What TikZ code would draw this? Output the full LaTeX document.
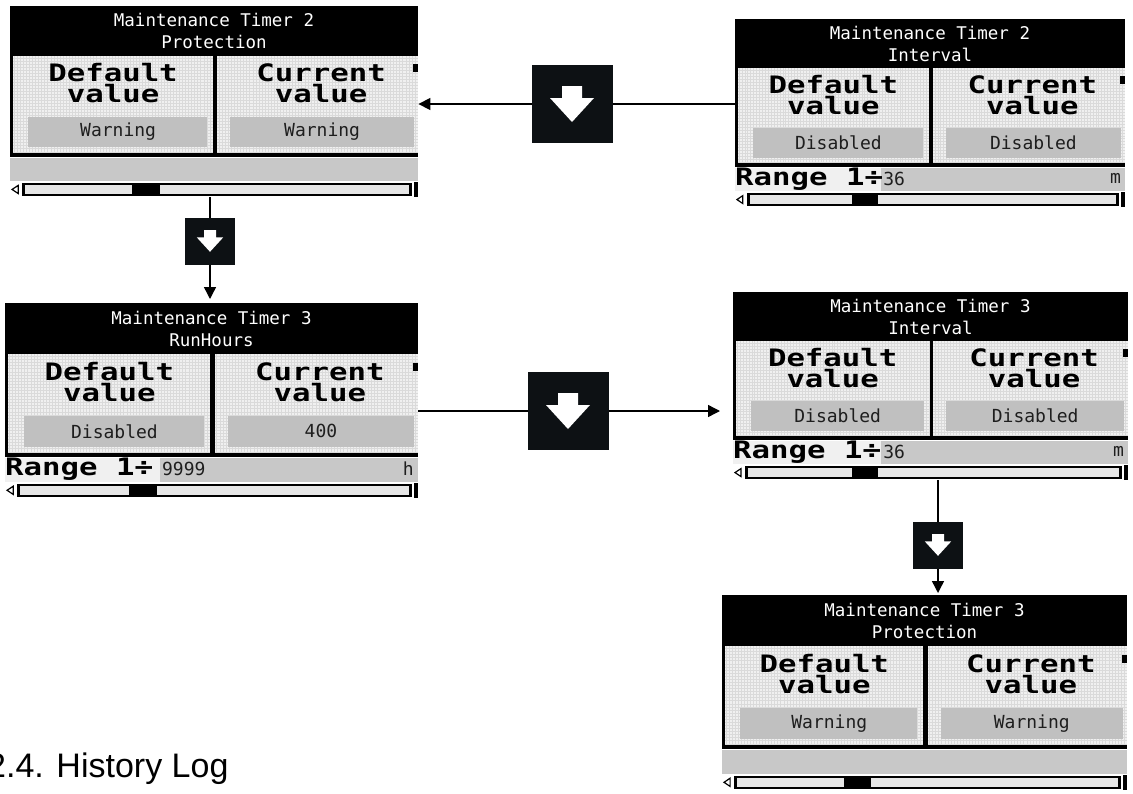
\documentclass[tikz,border=0pt]{standalone}
\usepackage{fontspec}
\setmainfont{Liberation Sans}
\newfontfamily\lcdmono{DejaVu Sans Mono}
\newfontfamily\lcdpixel[FakeStretch=1.28]{DejaVu Sans Mono}
\usepackage{tikz}
\usetikzlibrary{positioning,calc,arrows.meta,backgrounds}
\definecolor{lcdpanel}{RGB}{240,240,240}
\definecolor{lcdgrid}{RGB}{218,218,218}
\definecolor{lcdfield}{RGB}{192,192,192}
\definecolor{lcdbar}{RGB}{200,200,200}
\definecolor{lcdtrack}{RGB}{230,230,230}
\definecolor{lcdtext}{RGB}{30,30,30}
\definecolor{keyblack}{RGB}{13,17,20}

\begin{document}
\begin{tikzpicture}[x=1pt,y=-1pt,every node/.style={inner sep=0pt},
  headtxt/.style={text=white,align=center,font=\lcdmono\fontsize{17.5}{22}\selectfont},
  pixtxt/.style={text=black,align=center,font=\lcdpixel\bfseries\fontsize{24}{21}\selectfont},
  valtxt/.style={text=lcdtext,font=\lcdmono\fontsize{18}{20}\selectfont},
  keybox/.style={fill=keyblack,minimum width=81pt,minimum height=78pt},
  flow/.style={draw=black,line width=1.4pt,-{Triangle[length=12pt,width=12pt]}}]
  \useasboundingbox (0,0) rectangle (1133,793);

  % screens
  \foreach \n/\x/\y/\w/\h/\ta/\tb/\dv/\cv in {
      tl/10/6/408/191/Maintenance Timer 2/Protection/Warning/Warning,
      tr/735/19/390/188/Maintenance Timer 2/Interval/Disabled/Disabled,
      ml/5/303/413/195/Maintenance Timer 3/RunHours/Disabled/400,
      mr/733/292/395/188/Maintenance Timer 3/Interval/Disabled/Disabled,
      br/722/595/405/195/Maintenance Timer 3/Protection/Warning/Warning}{
    \begin{scope}[shift={(\x,\y)},xscale=\w/400,yscale=\h/190]
      \node[minimum width=\w pt,minimum height=\h pt,anchor=north west] (scr-\n) at (0,0) {};
      \fill[black] (0,0) rectangle (400,50);
      \fill[lcdpanel] (0,50) rectangle (400,147);
      \foreach \gx in {4,7,...,398}
        \draw[lcdgrid,line width=0.5pt] (\gx,50) -- (\gx,146);
      \foreach \gy in {52,55,...,145}
        \draw[lcdgrid,line width=0.5pt] (0,\gy) -- (400,\gy);
      \fill[black] (0,50) rectangle (3,147);
      \fill[black] (199,50) rectangle (203,147);
      \fill[black] (0,146) rectangle (400,150);
      \fill[lcdbar] (0,151) rectangle (400,174);
      \fill[lcdfield] (18,110) rectangle (193,140);
      \fill[lcdfield] (216,110) rectangle (396,140);
      \fill[black] (395,58) rectangle (400,66);
      % scroll bar
      \fill[black] (12,176) rectangle (394,189);
      \fill[lcdtrack] (15,178) rectangle (120,187);
      \fill[lcdtrack] (147,178) rectangle (391,187);
      \fill[black] (396,175) rectangle (400,190);
      \draw[line width=1.2pt] (2,182.5) -- (8,178.5) -- (8,186.5) -- cycle;
      % texts
      \node[headtxt] at (200,25) {\ta\\\tb};
      \node[pixtxt] at (101,77) {Default\\value};
      \node[pixtxt] at (305,77) {Current\\value};
      \node[valtxt] at (106,125) {\dv};
      \node[valtxt] at (306,125) {\cv};
    \end{scope}
  }

  % range rows
  \foreach \n/\x/\y/\w/\h/\rg/\un in {
      tr/735/19/390/188/36/m,
      ml/5/303/413/195/9999/h,
      mr/733/292/395/188/36/m}{
    \begin{scope}[shift={(\x,\y)},xscale=\w/400,yscale=\h/190]
      \fill[lcdpanel] (0,151) rectangle (150,174);
      \node[pixtxt,anchor=west] at (0,162) {Range 1÷};
      \node[valtxt,anchor=west] at (152,162) {\rg};
      \node[valtxt,anchor=east] at (396,161) {\un};
    \end{scope}
  }

  % keys
  \node[keybox] (k1) at (572,104) {};
  \node[keybox,minimum width=50pt,minimum height=47pt] (k2) at (210,241) {};
  \node[keybox] (k3) at (568,411) {};
  \node[keybox,minimum width=50pt,minimum height=47pt] (k4) at (938,545) {};
  \foreach \k/\s in {k1/1,k2/0.6,k3/1,k4/0.6}
    \fill[white,shift={(\k.center)},scale=\s] (-10,-18) -- (10,-18) -- (10,-6)
      -- (22,-6) -- (0,18) -- (-22,-6) -- (-10,-6) -- cycle;

  % connectors
  \begin{scope}[on background layer]
    \draw[flow] (scr-tr.west |- k1) -- (scr-tl.east |- k1);
    \draw[flow,shorten >=4pt] (k2 |- scr-tl.south) -- (k2 |- scr-ml.north);
    \draw[flow,shorten >=13pt] (scr-ml.east |- k3) -- (scr-mr.west |- k3);
    \draw[flow,shorten >=2pt] (k4 |- scr-mr.south) -- (k4 |- scr-br.north);
  \end{scope}

  \node[anchor=base west,font=\fontsize{34}{40}\selectfont] (title) at (-13,777) {2.4. History Log};
\end{tikzpicture}
\end{document}
